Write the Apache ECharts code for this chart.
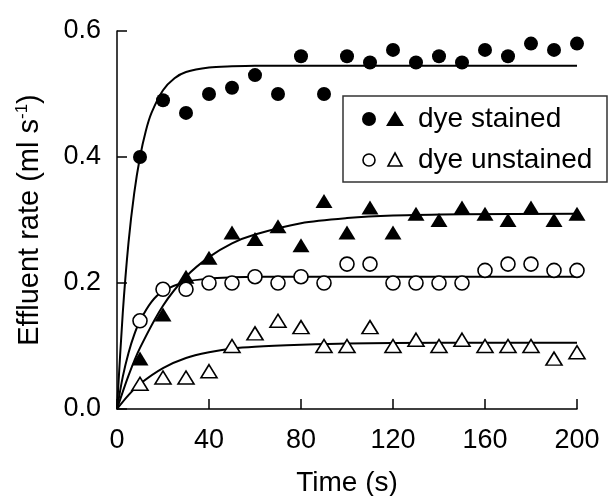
<!DOCTYPE html>
<html>
<head>
<meta charset="utf-8">
<script src="https://cdn.jsdelivr.net/npm/echarts@6/dist/echarts.min.js"></script>
<style>
    html, body { margin: 0; padding: 0; background: #fff; }
    #chart { width: 610px; height: 496px; }
</style>
</head>
<body>
<div id="chart"></div>
<script type="text/javascript">
    // measured points, time in s
    var times = [10, 20, 30, 40, 50, 60, 70, 80, 90, 100, 110, 120, 130, 140, 150, 160, 170, 180, 190, 200];
    var stainedCircle = [0.40, 0.49, 0.47, 0.50, 0.51, 0.53, 0.50, 0.56, 0.50, 0.56, 0.55, 0.57, 0.55, 0.56, 0.55, 0.57, 0.56, 0.58, 0.57, 0.58];
    var stainedTriangle = [0.08, 0.15, 0.21, 0.24, 0.28, 0.27, 0.29, 0.26, 0.33, 0.28, 0.32, 0.28, 0.31, 0.30, 0.32, 0.31, 0.30, 0.32, 0.30, 0.31];
    var unstainedCircle = [0.14, 0.19, 0.19, 0.20, 0.20, 0.21, 0.20, 0.21, 0.20, 0.23, 0.23, 0.20, 0.20, 0.20, 0.20, 0.22, 0.23, 0.23, 0.22, 0.22];
    var unstainedTriangle = [0.04, 0.05, 0.05, 0.06, 0.10, 0.12, 0.14, 0.13, 0.10, 0.10, 0.13, 0.10, 0.11, 0.10, 0.11, 0.10, 0.10, 0.10, 0.08, 0.09];

    // fitted curves
    var fitStainedCircleX = [0, 2.5, 5, 7.5, 10, 12.5, 15, 20, 25, 30, 40, 50, 60, 200];
    var fitStainedCircleY = [0, 0.152, 0.264, 0.343, 0.400, 0.441, 0.470, 0.506, 0.525, 0.535, 0.542, 0.544, 0.545, 0.545];
    var fitStainedTriX = [0, 5, 10, 20, 30, 40, 50, 60, 80, 100, 120, 150, 200];
    var fitStainedTriY = [0, 0.053, 0.097, 0.164, 0.210, 0.241, 0.263, 0.277, 0.295, 0.303, 0.307, 0.309, 0.310];
    var fitUnstainedCircleX = [0, 2.5, 5, 7.5, 10, 15, 20, 30, 40, 50, 60, 200];
    var fitUnstainedCircleY = [0, 0.051, 0.089, 0.118, 0.140, 0.170, 0.187, 0.202, 0.207, 0.209, 0.210, 0.210];
    var fitUnstainedTriX = [0, 5, 10, 20, 30, 40, 50, 60, 80, 100, 140, 200];
    var fitUnstainedTriY = [0, 0.022, 0.040, 0.065, 0.081, 0.090, 0.096, 0.099, 0.102, 0.104, 0.105, 0.105];

    var xTicks = [0, 40, 80, 120, 160, 200];
    var yTicks = [0.0, 0.2, 0.4, 0.6];

    function pairs(xs, ys) {
        var out = [];
        for (var i = 0; i < xs.length; i++) {
            out.push([xs[i], ys[i]]);
        }
        return out;
    }

    function fitLine(xs, ys) {
        return {
            type: 'line',
            data: pairs(xs, ys),
            smooth: 0.3,
            symbol: 'none',
            lineStyle: { color: '#000', width: 2 },
            z: 1
        };
    }

    function points(ys, symbol, filled, size) {
        return {
            type: 'scatter',
            data: pairs(times, ys),
            symbol: symbol,
            symbolSize: size,
            itemStyle: {
                color: filled ? '#000' : '#fff',
                borderColor: '#000',
                borderWidth: filled ? 0 : 1.6,
                opacity: 1
            },
            z: 3
        };
    }

    var font = 'Liberation Sans, Arial, sans-serif';

    var option = {
        animation: false,
        backgroundColor: '#fff',
        grid: { left: 117, right: 33, top: 31, bottom: 87, outerBoundsMode: 'none', containLabel: false },
        xAxis: {
            type: 'value',
            min: xTicks[0],
            max: xTicks[xTicks.length - 1],
            interval: 40,
            name: 'Time (s)',
            nameLocation: 'middle',
            nameGap: 60,
            nameTextStyle: { fontSize: 28, fontFamily: font, color: '#000' },
            axisLine: { lineStyle: { color: '#000', width: 1.5 } },
            axisTick: { inside: true, length: 10, lineStyle: { color: '#000', width: 1.5 } },
            axisLabel: { fontSize: 27, fontFamily: font, color: '#000', margin: 18 },
            splitLine: { show: false }
        },
        yAxis: {
            type: 'value',
            min: yTicks[0],
            max: yTicks[yTicks.length - 1],
            interval: 0.2,
            name: 'Effluent rate (ml s{sup|-1})',
            nameLocation: 'middle',
            nameGap: 72,
            nameTextStyle: {
                fontSize: 29, fontFamily: font, color: '#000',
                rich: {
                    sup: { fontSize: 17, fontFamily: font, color: '#000', verticalAlign: 'top', padding: [0, 0, 14, 0] }
                }
            },
            axisLine: { show: true, lineStyle: { color: '#000', width: 1.5 } },
            axisTick: { show: true, inside: true, length: 10, lineStyle: { color: '#000', width: 1.5 } },
            axisLabel: {
                fontSize: 27, fontFamily: font, color: '#000', margin: 16,
                formatter: function (v) { return v.toFixed(1); }
            },
            splitLine: { show: false }
        },
        series: [
            fitLine(fitStainedCircleX, fitStainedCircleY),
            fitLine(fitStainedTriX, fitStainedTriY),
            fitLine(fitUnstainedCircleX, fitUnstainedCircleY),
            fitLine(fitUnstainedTriX, fitUnstainedTriY),
            points(stainedCircle, 'circle', true, 14),
            points(stainedTriangle, 'triangle', true, [17, 14]),
            points(unstainedCircle, 'circle', false, 14),
            points(unstainedTriangle, 'triangle', false, [16, 13])
        ],
        graphic: [
            {
                type: 'rect',
                shape: { x: 343, y: 96, width: 264, height: 86 },
                style: { fill: '#fff', stroke: '#333', lineWidth: 1.5 },
                z: 10
            },
            { type: 'circle', shape: { cx: 369, cy: 119, r: 7 }, style: { fill: '#000' }, z: 11 },
            { type: 'polygon', shape: { points: [[395, 111], [404, 126], [386, 126]] }, style: { fill: '#000' }, z: 11 },
            {
                type: 'text', x: 418, y: 119, z: 11,
                style: { text: 'dye stained', fontSize: 28, fontFamily: font, fill: '#000', verticalAlign: 'middle' }
            },
            { type: 'circle', shape: { cx: 369, cy: 160, r: 6 }, style: { fill: '#fff', stroke: '#000', lineWidth: 1.6 }, z: 11 },
            { type: 'polygon', shape: { points: [[395, 153], [402, 166], [388, 166]] }, style: { fill: '#fff', stroke: '#000', lineWidth: 1.6 }, z: 11 },
            {
                type: 'text', x: 418, y: 160, z: 11,
                style: { text: 'dye unstained', fontSize: 28, fontFamily: font, fill: '#000', verticalAlign: 'middle' }
            }
        ]
    };

    var myChart = echarts.init(document.getElementById('chart'));
    myChart.setOption(option);
</script>
</body>
</html>
